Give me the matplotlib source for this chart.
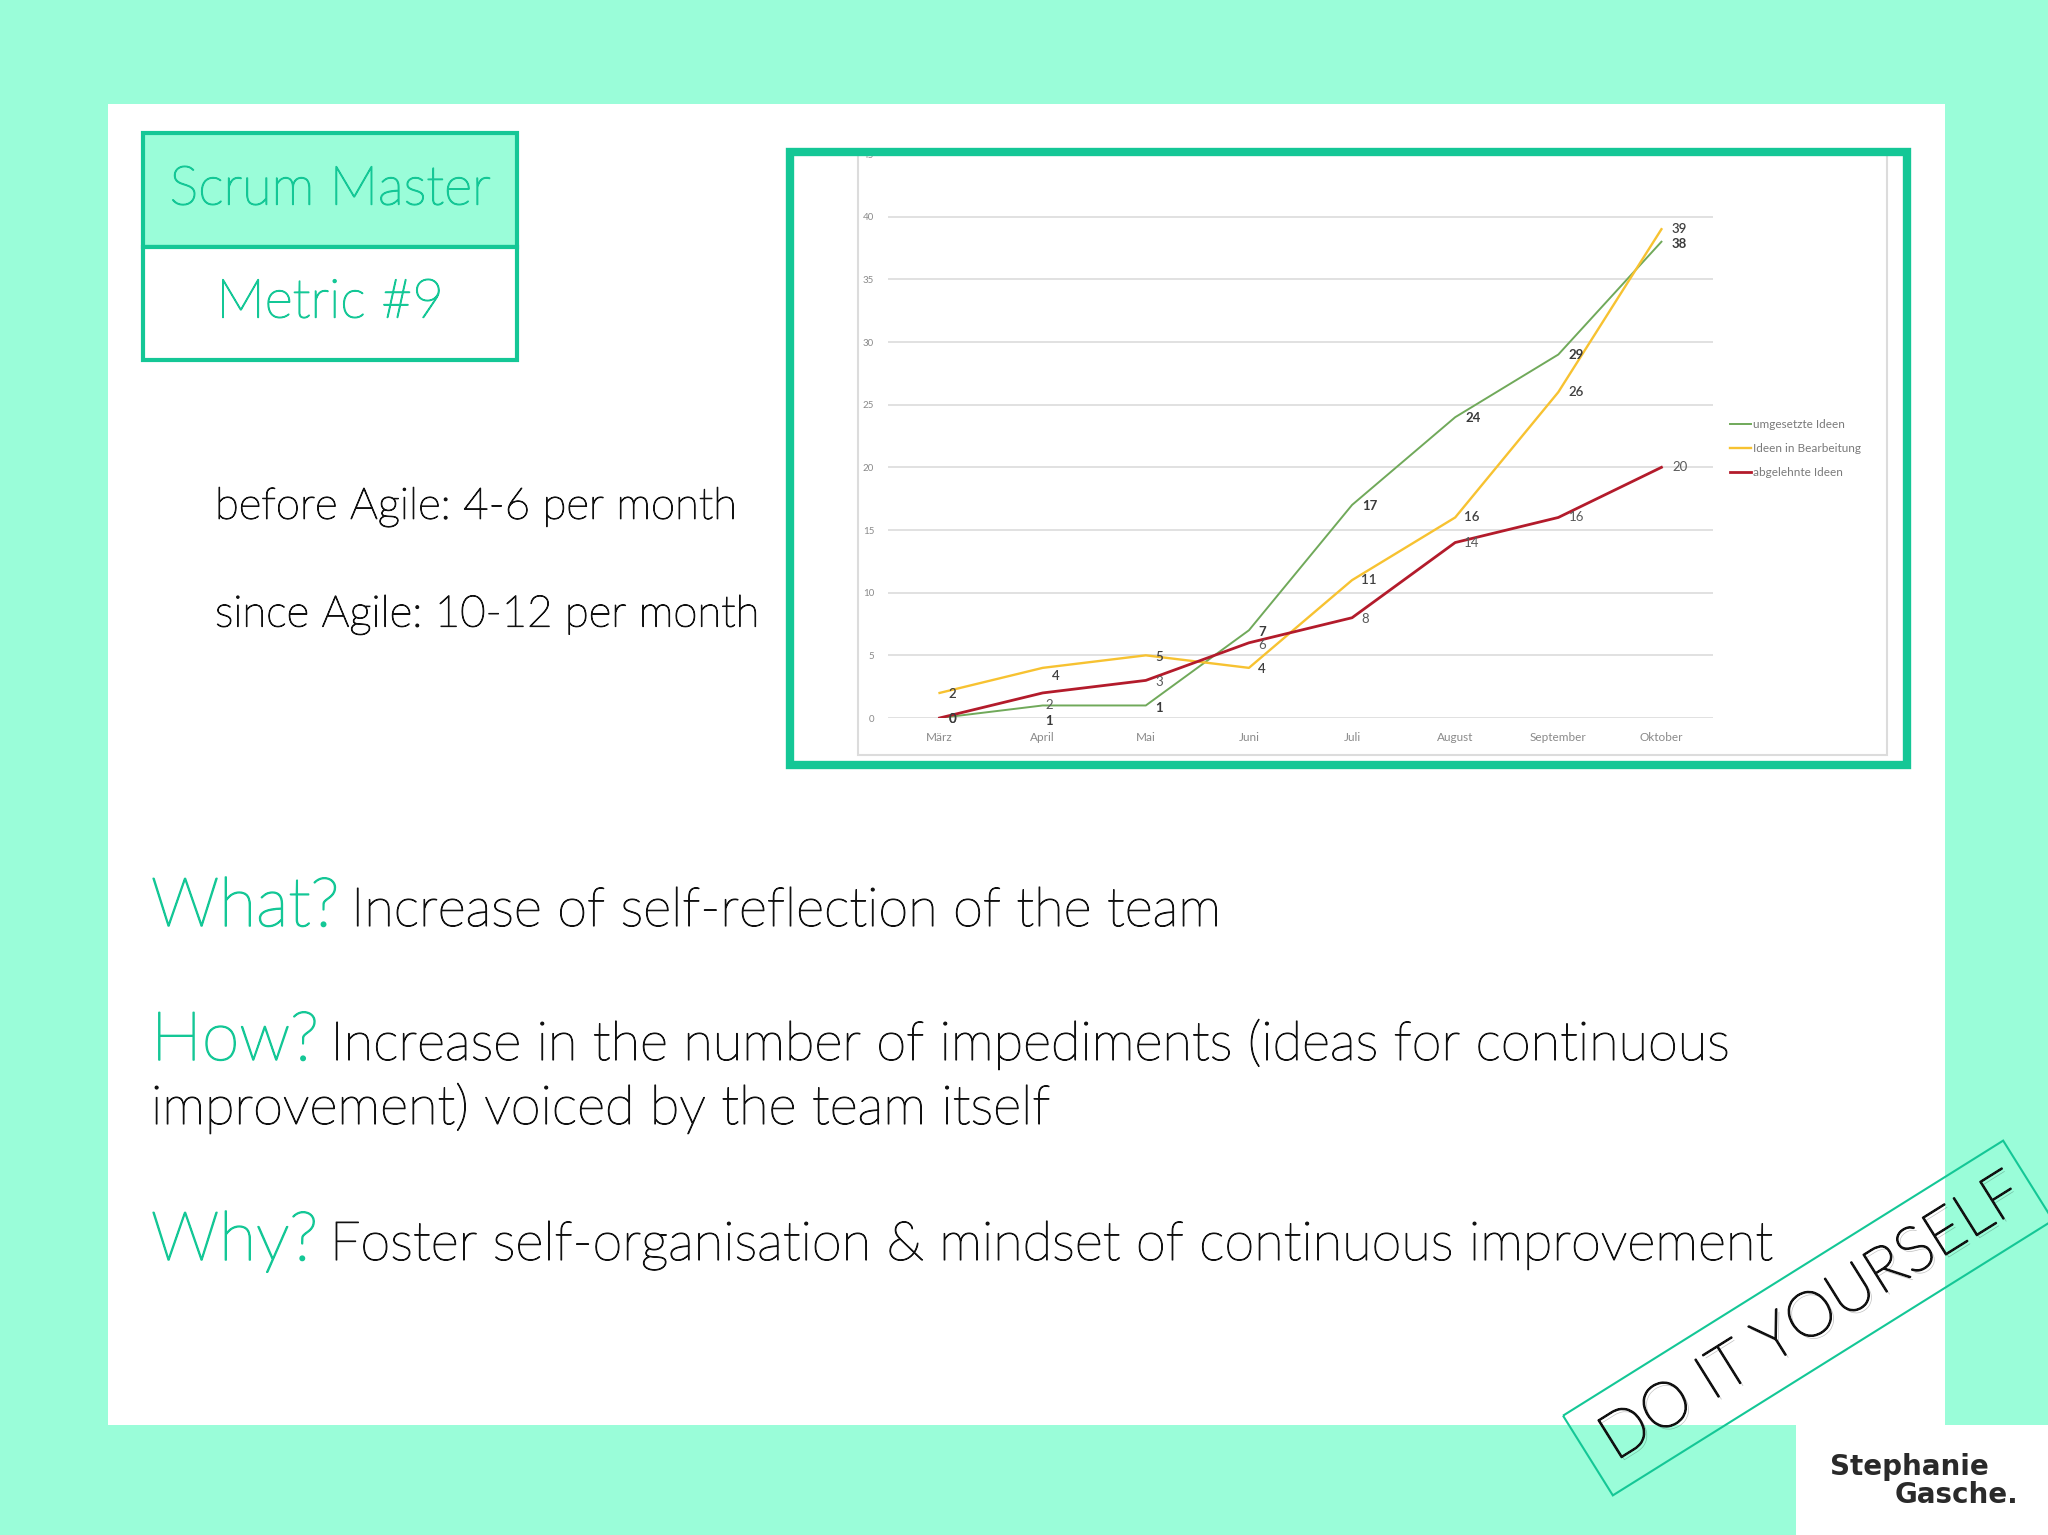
import matplotlib
matplotlib.use("Agg")
import matplotlib.pyplot as plt
import matplotlib.patheffects as pe
from matplotlib.patches import Rectangle, Polygon
import numpy as np

# Data

months = ['März', 'April', 'Mai', 'Juni', 'Juli', 'August', 'September', 'Oktober']
umgesetzt = [0, 1, 1, 7, 17, 24, 29, 38]
in_bearbeitung = [2, 4, 5, 4, 11, 16, 26, 39]
abgelehnt = [0, 2, 3, 6, 8, 14, 16, 20]
series_names = ['umgesetzte Ideen', 'Ideen in Bearbeitung', 'abgelehnte Ideen']
y_ticks = [0, 5, 10, 15, 20, 25, 30, 35, 40, 45]

# label offsets (pixels) as Excel placed them
off_green = [(10, -1), (5, -12), (10, -2), (10, -1), (14, -1), (14, -1), (14, 0), (14, -2)]
off_yellow = [(10, -1), (10, -6), (10, -1), (10, -1), (13, 0), (13, 0), (14, 0), (14, 0)]
off_red = [(10, -1), (5, -9), (10, -1), (10, -2), (10, -1), (13, 0), (14, 0), (14, 0)]

MINT = '#9AFDD9'
GREEN = '#14C796'
C_GREEN = '#70A95A'
C_YELLOW = '#F7C231'
C_RED = '#B31B2B'
TXT = '#111111'
FONT = 'Lato'


def thick(col, w=0.8):
    # light font is a bit too thin, fatten it slightly
    return [pe.withStroke(linewidth=w, foreground=col)]


W, H = 2048, 1535
fig = plt.figure(figsize=(W / 100, H / 100), dpi=100)
fig.patch.set_facecolor(MINT)

# background in pixel coordinates

bg = fig.add_axes([0, 0, 1, 1])
bg.set_xlim(0, W)
bg.set_ylim(H, 0)
bg.axis('off')

bg.add_patch(Rectangle((108, 104), 1837, 1321, fc='white', ec='none'))
bg.add_patch(Rectangle((1796, 1425), 252, 110, fc='white', ec='none'))

# title box
bg.add_patch(Rectangle((143, 133), 374, 114, fc=MINT, ec=GREEN, lw=3))
bg.add_patch(Rectangle((143, 247), 374, 113, fc='white', ec=GREEN, lw=3))
bg.text(330, 190, 'Scrum Master', color=GREEN, fontsize=39, family=FONT,
        fontweight='light', ha='center', va='center', path_effects=thick(GREEN, 1.0))
bg.text(330, 303, 'Metric #9', color=GREEN, fontsize=39, family=FONT,
        fontweight='light', ha='center', va='center', path_effects=thick(GREEN, 1.0))

bg.text(215, 507, 'before Agile: 4-6 per month', color=TXT, fontsize=31.5,
        family=FONT, fontweight='light', va='center', path_effects=thick(TXT))
bg.text(215, 615, 'since Agile: 10-12 per month', color=TXT, fontsize=31.5,
        family=FONT, fontweight='light', va='center', path_effects=thick(TXT))

# inner frame of the pasted chart
bg.add_patch(Rectangle((858, 154), 1029, 601, fc='white', ec='#dcdcdc', lw=1.5))

# What / How / Why lines

renderer = fig.canvas.get_renderer()


def lead_text(x, y, head, rest):
    t = bg.text(x, y, head, color=GREEN, fontsize=49, family=FONT,
                fontweight='light', va='baseline', path_effects=thick(GREEN, 1.1))
    bb = t.get_window_extent(renderer)
    x2 = bg.transData.inverted().transform((bb.x1, bb.y0))[0]
    bg.text(x2 + 12, y, rest, color=TXT, fontsize=39, family=FONT,
            fontweight='light', va='baseline', path_effects=thick(TXT))


lead_text(151, 926, 'What?', 'Increase of self-reflection of the team')
lead_text(151, 1060, 'How?', 'Increase in the number of impediments (ideas for continuous')
bg.text(151, 1124, 'improvement) voiced by the team itself', color=TXT,
        fontsize=39, family=FONT, fontweight='light', va='baseline',
        path_effects=thick(TXT))
lead_text(151, 1260, 'Why?', 'Foster self-organisation & mindset of continuous improvement')

# DO IT YOURSELF stamp

ang = np.deg2rad(32)
cx, cy, L, S = 1808, 1318, 519, 94
u = np.array([np.cos(ang), -np.sin(ang)])
v = np.array([np.sin(ang), np.cos(ang)])
c = np.array([cx, cy])
corners = [c - u * L / 2 - v * S / 2, c + u * L / 2 - v * S / 2,
           c + u * L / 2 + v * S / 2, c - u * L / 2 + v * S / 2]
bg.add_patch(Polygon(corners, closed=True, fill=False, ec=GREEN, lw=1.5))
bg.text(cx + 4, cy, 'DO IT YOURSELF', rotation=32, rotation_mode='anchor',
        fontsize=45, family=FONT, fontweight='light', color='#111111',
        ha='center', va='center',
        path_effects=[pe.SimplePatchShadow(offset=(2, -2), alpha=0.25),
                      pe.withStroke(linewidth=1.3, foreground='#111111')])

bg.text(1989, 1467, 'Stephanie', fontsize=20, family='DejaVu Sans', fontweight='bold',
        color='#2a2a2a', ha='right', va='center')
bg.text(2018, 1495, 'Gasche.', fontsize=20, family='DejaVu Sans', fontweight='bold',
        color='#2a2a2a', ha='right', va='center')

# the line chart

ax = fig.add_axes([888 / W, 1 - 718 / H, 825 / W, 564 / H])
ax.set_facecolor('white')
x = np.arange(len(months))

ax.plot(x, umgesetzt, color=C_GREEN, lw=1.4, label=series_names[0], zorder=3)
ax.plot(x, in_bearbeitung, color=C_YELLOW, lw=1.7, label=series_names[1], zorder=3)
ax.plot(x, abgelehnt, color=C_RED, lw=2.0, label=series_names[2], zorder=3)

for vals, offs, col, wt in [(abgelehnt, off_red, '#5a5a5a', 'normal'),
                            (in_bearbeitung, off_yellow, '#404040', 'semibold'),
                            (umgesetzt, off_green, '#3a3a3a', 'bold')]:
    for i, val in enumerate(vals):
        dx, dy = offs[i]
        ax.annotate(str(val), (x[i], val), xytext=(dx * 1.3, dy * 1.3),
                    textcoords='offset pixels', ha='center', va='center',
                    fontsize=9.5, family=FONT, fontweight=wt, color=col, zorder=4)

ax.set_xlim(-0.5, 7.5)
ax.set_ylim(0, 45)
ax.set_xticks(x)
ax.set_xticklabels(months)
ax.set_yticks(y_ticks)
ax.grid(axis='y', color='#dcdcdc', lw=1.2)
ax.set_axisbelow(True)
for s in ax.spines.values():
    s.set_visible(False)
ax.tick_params(length=0, colors='#8a8a8a')
ax.tick_params(axis='x', labelsize=8.5, pad=10)
ax.tick_params(axis='y', labelsize=7, pad=10)
for lab in ax.get_xticklabels() + ax.get_yticklabels():
    lab.set_family(FONT)

leg = ax.legend(loc='upper left', bbox_to_anchor=(1.02, 0.53), frameon=False,
                handlelength=1.8, handletextpad=0.15, borderpad=0, borderaxespad=0,
                labelspacing=1.1, prop={'family': FONT, 'size': 8.5})
for t in leg.get_texts():
    t.set_color('#7a7a7a')

# green frame around the chart, on top of everything
fig.add_artist(Rectangle((790 / W, 1 - 765 / H), 1117 / W, 613 / H,
                         transform=fig.transFigure, fill=False, ec=GREEN,
                         lw=6, zorder=5))

fig.savefig('out.png', dpi=100, facecolor=MINT)
